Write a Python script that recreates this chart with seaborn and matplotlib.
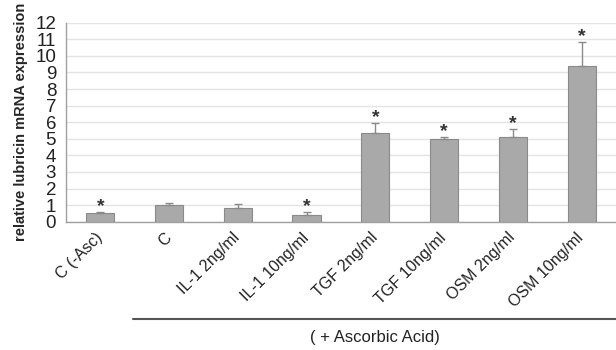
import pandas as pd
import seaborn as sns
import matplotlib.pyplot as plt
import matplotlib.transforms as mtransforms

# data
groups = ['C (-Asc)', 'C', 'IL-1 2ng/ml', 'IL-1 10ng/ml',
          'TGF 2ng/ml', 'TGF 10ng/ml', 'OSM 2ng/ml', 'OSM 10ng/ml']
expression = [0.51, 1.0, 0.85, 0.41, 5.37, 4.99, 5.11, 9.41]
err_upper = [0.06, 0.1, 0.24, 0.16, 0.6, 0.12, 0.46, 1.41]
significant = [True, False, False, True, True, True, True, True]
yticks = list(range(0, 13))

df = pd.DataFrame({'group': groups, 'expr': expression})

sns.set_style('white')
plt.rcParams['font.family'] = ['Liberation Sans', 'DejaVu Sans']
plt.rcParams['text.color'] = '#222222'

fig = plt.figure(figsize=(6.16, 3.5), dpi=100)
ax = fig.add_axes([0.107, 0.3666, 0.893, 0.5686])

sns.barplot(data=df, x='group', y='expr', ax=ax, color='#a9a9a9',
            saturation=1, width=0.41, edgecolor='#8a8a8a', linewidth=0.8,
            errorbar=None, zorder=3)

# upper error bars only
ax.errorbar(range(len(groups)), expression, yerr=[[0] * len(groups), err_upper],
            fmt='none', ecolor='#8a8a8a', elinewidth=1, capsize=3, capthick=1, zorder=4)

# asterisks
for i, (v, e, s) in enumerate(zip(expression, err_upper, significant)):
    if s:
        ax.annotate('*', xy=(i, v + e), xytext=(0, 4), textcoords='offset points',
                    ha='center', va='center', fontsize=14, fontweight='bold',
                    color='#333333')

ax.set_ylim(0, 12)
ax.set_xlim(-0.5, len(groups) - 0.5)
ax.set_yticks(yticks)
ax.yaxis.grid(True, color='#e4e4e4', linewidth=1)
ax.set_axisbelow(True)

for side in ['top', 'right']:
    ax.spines[side].set_visible(False)
for side in ['left', 'bottom']:
    ax.spines[side].set_color('#a0a0a0')
    ax.spines[side].set_linewidth(1)

ax.tick_params(axis='y', length=4, width=1, color='#a0a0a0', pad=3,
               labelsize=13.5, labelcolor='#222222')
ax.tick_params(axis='x', which='major', length=0, pad=6,
               labelsize=11.5, labelcolor='#222222')
ax.set_xticks([i - 0.5 for i in range(len(groups) + 1)], minor=True)
ax.tick_params(axis='x', which='minor', length=4, width=1, color='#a0a0a0')

shift = mtransforms.ScaledTranslation(5 / 100, 0, fig.dpi_scale_trans)
for lab in ax.get_xticklabels():
    lab.set_rotation(45)
    lab.set_ha('right')
    lab.set_transform(lab.get_transform() + shift)

ax.set_xlabel('')
ax.set_ylabel('relative lubricin mRNA expression', fontsize=10.5,
              fontweight='bold', labelpad=5)

# bracket for the ascorbic acid groups
trans = mtransforms.blended_transform_factory(ax.transData, ax.transAxes)
ax.plot([0.48, 7.5], [-0.489, -0.489], transform=trans, color='#555555',
        linewidth=1.5, clip_on=False)
ax.text(4.0, -0.58, '( + Ascorbic Acid)', transform=trans, ha='center',
        va='center', fontsize=12)

fig.savefig('out.png', dpi=100)
